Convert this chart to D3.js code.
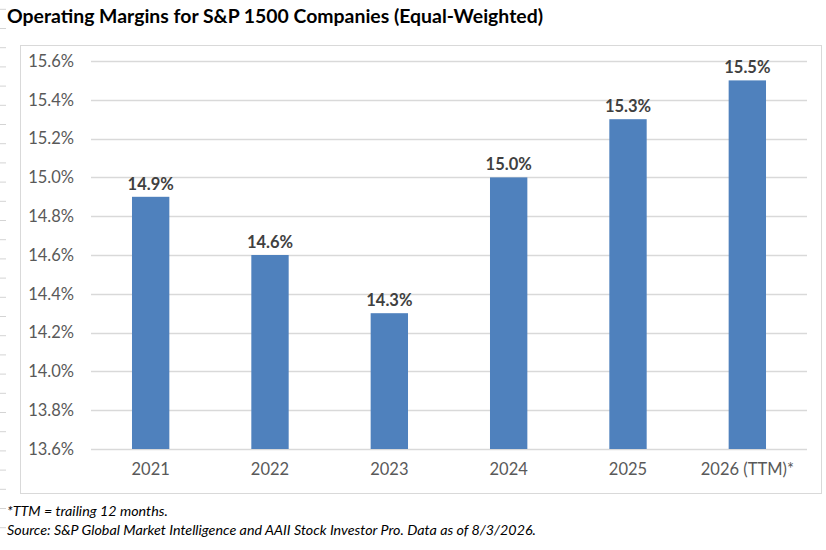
<!DOCTYPE html>
<html lang="en">
<head>
<meta charset="UTF-8">
<title>Operating Margins for S&amp;P 1500 Companies</title>
<script src="https://d3js.org/d3.v7.min.js"></script>
<style>
  body { margin: 0; background: #fff; }
  svg { display: block; font-family: Lato, "Open Sans", sans-serif; }
</style>
</head>
<body>
<svg width="826" height="550"></svg>
<script>
// chart data
const categories = ["2021", "2022", "2023", "2024", "2025", "2026 (TTM)*"];
const margins = [14.9, 14.6, 14.3, 15.0, 15.3, 15.5];
const yTicks = [13.6, 13.8, 14.0, 14.2, 14.4, 14.6, 14.8, 15.0, 15.2, 15.4, 15.6];

const svg = d3.select("svg");
const width = +svg.attr("width");
const height = +svg.attr("height");

// faint spreadsheet row lines on the left edge
svg.selectAll(".row")
  .data(d3.range(9.3, 545, 19.2))
  .enter().append("line")
  .attr("x1", 0).attr("x2", 6)
  .attr("y1", d => d).attr("y2", d => d)
  .attr("stroke", "#d4d4d4").attr("stroke-width", 1);

// title
svg.append("text")
  .attr("x", 7).attr("y", 23)
  .attr("font-size", 18.5)
  .attr("font-weight", "bold")
  .attr("fill", "#000")
  .attr("textLength", 536)
  .attr("lengthAdjust", "spacingAndGlyphs")
  .text("Operating Margins for S&P 1500 Companies (Equal-Weighted)");

// chart frame
svg.append("rect")
  .attr("x", 20.5).attr("y", 45.5)
  .attr("width", 801).attr("height", 448)
  .attr("fill", "none")
  .attr("stroke", "#d9d9d9");

const margin = { top: 61, right: 19, bottom: 101, left: 91 };

const x = d3.scaleBand()
  .domain(categories)
  .range([margin.left, width - margin.right])
  .paddingInner(0.687)
  .paddingOuter(0.687 / 2);

const y = d3.scaleLinear()
  .domain([13.6, 15.6])
  .range([height - margin.bottom, margin.top]);

// gridlines
svg.append("g")
  .selectAll("line")
  .data(yTicks)
  .enter().append("line")
  .attr("x1", margin.left).attr("x2", width - margin.right)
  .attr("y1", d => Math.round(y(d)) + 0.5).attr("y2", d => Math.round(y(d)) + 0.5)
  .attr("stroke", "#d9d9d9").attr("stroke-width", 1.3);

// y axis labels
const yAxis = d3.axisLeft(y)
  .tickValues(yTicks)
  .tickFormat(d => d3.format(".1f")(d) + "%")
  .tickSize(0)
  .tickPadding(17);

svg.append("g")
  .attr("transform", `translate(${margin.left},0)`)
  .call(yAxis)
  .call(g => g.select(".domain").remove())
  .call(g => g.selectAll("text")
    .attr("font-family", "Lato, 'Open Sans', sans-serif")
    .attr("font-size", 16.5)
    .attr("fill", "#595959"));

// x axis labels
const xAxis = d3.axisBottom(x).tickSize(0).tickPadding(14);
svg.append("g")
  .attr("transform", `translate(0,${height - margin.bottom})`)
  .call(xAxis)
  .call(g => g.select(".domain").remove())
  .call(g => g.selectAll("text")
    .attr("font-family", "Lato, 'Open Sans', sans-serif")
    .attr("font-size", 16.5)
    .attr("fill", "#595959"));

// bars
svg.selectAll(".bar")
  .data(margins)
  .enter().append("rect")
  .attr("class", "bar")
  .attr("x", (_, i) => x(categories[i]))
  .attr("y", d => y(d))
  .attr("width", x.bandwidth())
  .attr("height", d => y(13.6) - y(d))
  .attr("fill", "#4f81bd");

// value labels
svg.selectAll(".val")
  .data(margins)
  .enter().append("text")
  .attr("class", "val")
  .attr("x", (_, i) => x(categories[i]) + x.bandwidth() / 2)
  .attr("y", d => y(d) - 7)
  .attr("text-anchor", "middle")
  .attr("font-size", 16.5)
  .attr("font-weight", "bold")
  .attr("fill", "#404040")
  .text(d => d3.format(".1f")(d) + "%");

// footnotes
const notes = [
  "*TTM = trailing 12 months.",
  "Source: S&P Global Market Intelligence and AAII Stock Investor Pro. Data as of 8/3/2026."
];
svg.selectAll(".note")
  .data(notes)
  .enter().append("text")
  .attr("class", "note")
  .attr("x", 7)
  .attr("y", (_, i) => 516 + i * 19)
  .attr("font-size", 14.3)
  .attr("font-style", "italic")
  .attr("fill", "#000")
  .text(d => d);
</script>
</body>
</html>
